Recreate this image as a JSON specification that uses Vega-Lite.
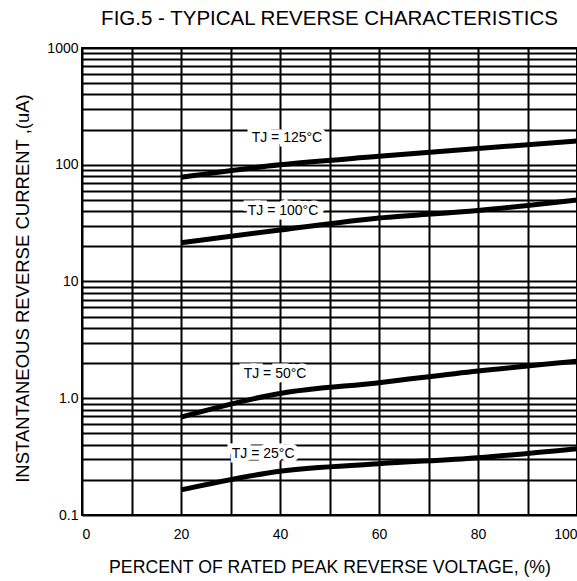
{
  "$schema": "https://vega.github.io/schema/vega-lite/v6.json",
  "width": 495,
  "height": 467,
  "autosize": {"type": "none"},
  "padding": {"left": 82, "top": 48, "right": 0, "bottom": 66},
  "background": "white",
  "config": {
    "font": "Liberation Sans",
    "view": {"stroke": "black", "strokeWidth": 2},
    "axis": {"labelFont": "Liberation Sans", "titleFont": "Liberation Sans", "labelColor": "black", "titleColor": "black", "titleFontWeight": "normal"}
  },
  "title": {
    "text": "FIG.5 - TYPICAL REVERSE CHARACTERISTICS",
    "fontSize": 20.5,
    "fontWeight": "normal",
    "color": "black",
    "anchor": "middle",
    "offset": 12
  },
  "datasets": {
    "curves": [
      {"v": 20, "i": 78, "tj": "125"},
      {"v": 40, "i": 100, "tj": "125"},
      {"v": 60, "i": 118, "tj": "125"},
      {"v": 80, "i": 138, "tj": "125"},
      {"v": 100, "i": 160, "tj": "125"},
      {"v": 20, "i": 21.5, "tj": "100"},
      {"v": 40, "i": 27.6, "tj": "100"},
      {"v": 60, "i": 35, "tj": "100"},
      {"v": 80, "i": 40.6, "tj": "100"},
      {"v": 100, "i": 50, "tj": "100"},
      {"v": 20, "i": 0.69, "tj": "50"},
      {"v": 40, "i": 1.1, "tj": "50"},
      {"v": 60, "i": 1.36, "tj": "50"},
      {"v": 80, "i": 1.71, "tj": "50"},
      {"v": 100, "i": 2.07, "tj": "50"},
      {"v": 20, "i": 0.164, "tj": "25"},
      {"v": 40, "i": 0.237, "tj": "25"},
      {"v": 60, "i": 0.275, "tj": "25"},
      {"v": 80, "i": 0.31, "tj": "25"},
      {"v": 100, "i": 0.37, "tj": "25"}
    ],
    "labels": [
      {"v": 41.4, "i": 170, "text": "TJ = 125°C"},
      {"v": 40.6, "i": 40, "text": "TJ = 100°C"},
      {"v": 39, "i": 1.62, "text": "TJ = 50°C"},
      {"v": 36.6, "i": 0.33, "text": "TJ = 25°C"}
    ]
  },
  "layer": [
    {
      "data": {"name": "curves"},
      "mark": {"type": "line", "color": "black", "strokeWidth": 5, "interpolate": "monotone"},
      "encoding": {
        "x": {
          "field": "v", "type": "quantitative",
          "scale": {"domain": [0, 100], "nice": false},
          "axis": {
            "values": [0, 10, 20, 30, 40, 50, 60, 70, 80, 90, 100],
            "labelExpr": "datum.value % 20 == 0 ? datum.label : ''",
            "grid": true, "gridColor": "black", "gridWidth": 2, "gridOpacity": 1,
            "domain": false, "ticks": false,
            "labelFontSize": 14, "labelPadding": 12, "labelOverlap": false, "labelBound": false, "labelFlush": true,
            "title": "PERCENT OF RATED PEAK REVERSE VOLTAGE, (%)",
            "titleFontSize": 17.7, "titlePadding": 17
          }
        },
        "y": {
          "field": "i", "type": "quantitative",
          "scale": {"type": "log", "domain": [0.1, 1000], "nice": false},
          "axis": {
            "values": [0.1, 0.2, 0.3, 0.4, 0.5, 0.6, 0.7, 0.8, 0.9, 1, 2, 3, 4, 5, 6, 7, 8, 9, 10, 20, 30, 40, 50, 60, 70, 80, 90, 100, 200, 300, 400, 500, 600, 700, 800, 900, 1000],
            "labelExpr": "datum.value == 1000 ? '1000' : datum.value == 100 ? '100' : datum.value == 10 ? '10' : datum.value == 1 ? '1.0' : datum.value == 0.1 ? '0.1' : ''",
            "grid": true, "gridColor": "black", "gridWidth": 2, "gridOpacity": 1,
            "domain": false, "ticks": false,
            "labelFontSize": 14, "labelPadding": 4, "labelOverlap": false, "labelBound": false, "labelFlush": false,
            "title": "INSTANTANEOUS REVERSE CURRENT ,(uA)",
            "titleFontSize": 18.5, "titlePadding": 14, "titleY": 240
          }
        },
        "detail": {"field": "tj"}
      }
    },
    {
      "data": {"name": "labels"},
      "mark": {"type": "text", "fontSize": 14, "stroke": "white", "strokeWidth": 9, "strokeJoin": "miter", "color": "white", "font": "Liberation Sans"},
      "encoding": {
        "x": {"field": "v", "type": "quantitative"},
        "y": {"field": "i", "type": "quantitative"},
        "text": {"field": "text"}
      }
    },
    {
      "data": {"name": "labels"},
      "mark": {"type": "text", "fontSize": 14, "color": "black", "font": "Liberation Sans"},
      "encoding": {
        "x": {"field": "v", "type": "quantitative"},
        "y": {"field": "i", "type": "quantitative"},
        "text": {"field": "text"}
      }
    }
  ]
}
